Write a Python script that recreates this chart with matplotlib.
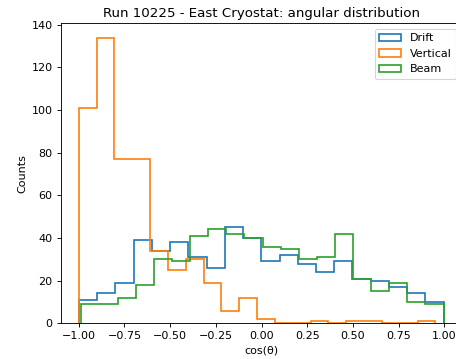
import numpy as np
import matplotlib
matplotlib.use("Agg")
import matplotlib.pyplot as plt

# Per-bin track counts for each category (20 bins each)
drift_counts = [11, 14, 19, 39, 34, 38, 31, 26, 45, 40,
                29, 32, 28, 24, 29, 21, 20, 17, 14, 10]
vertical_counts = [101, 134, 77, 77, 34, 25, 30, 19, 6, 12,
                   2, 0, 0, 1, 0, 1, 1, 0, 0, 1]
beam_counts = [9, 9, 12, 18, 30, 29, 41, 44, 42, 40,
               36, 35, 30, 31, 42, 21, 15, 19, 10, 9]

# Histogram range of cos(theta) for each category
drift_range = (-1.0, 0.996)
vertical_range = (-1.0, 0.95)
beam_range = (-0.985, 0.995)
n_bins = 20

labels = ["Drift", "Vertical", "Beam"]

W, H = 456, 359
fig = plt.figure(figsize=(W / 80, H / 80), dpi=80)
ax = fig.add_axes([60.5 / W, (H - 323.3) / H, 401.5 / W, 300 / H])

for counts, rng, label in zip([drift_counts, vertical_counts, beam_counts],
                              [drift_range, vertical_range, beam_range],
                              labels):
    edges = np.linspace(rng[0], rng[1], n_bins + 1)
    centers = 0.5 * (edges[:-1] + edges[1:])
    ax.hist(centers, bins=edges, weights=counts, histtype="step",
            linewidth=1.5, label=label)

ax.set_title("Run 10225 - East Cryostat: angular distribution")
ax.set_xlabel("cos(θ)")
ax.set_ylabel("Counts")
ax.legend(loc="upper right")

fig.savefig("out.png", dpi=80)
